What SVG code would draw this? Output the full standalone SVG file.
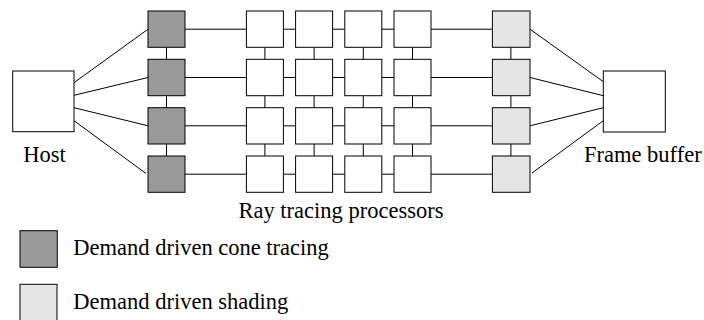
<svg xmlns="http://www.w3.org/2000/svg" width="704" height="320" viewBox="0 0 704 320">
  <style>
    .box { stroke: #000; stroke-width: 1; }
    .plain { fill: #fff; }
    .cone { fill: #999999; }
    .shade { fill: #e5e5e5; }
    .link { stroke: #000; stroke-width: 1; fill: none; }
  </style>
  <rect width="704" height="320" fill="#fff"/>

  <!-- connectors -->
  <g id="connectors" class="link">
    <!-- host to cone tracing column -->
    <line x1="74" y1="82.7" x2="148" y2="29.2"/>
    <line x1="74" y1="95.3" x2="148" y2="77.5"/>
    <line x1="74" y1="107.7" x2="148" y2="125.8"/>
    <line x1="74" y1="120.7" x2="146" y2="173.5"/>
    <!-- shading column to frame buffer -->
    <line x1="530" y1="29.2" x2="603.3" y2="81.7"/>
    <line x1="530" y1="77.5" x2="603.3" y2="95.7"/>
    <line x1="530" y1="125.8" x2="603.3" y2="107.7"/>
    <line x1="532" y1="173" x2="603.3" y2="120.7"/>
    <!-- horizontal row links -->
    <path d="M185 29.2H246.4M283.4 29.2H295.6M332.6 29.2H344.8M381.8 29.2H394M431 29.2H492.4"/>
    <path d="M185 77.5H246.4M283.4 77.5H295.6M332.6 77.5H344.8M381.8 77.5H394M431 77.5H492.4"/>
    <path d="M185 125.8H246.4M283.4 125.8H295.6M332.6 125.8H344.8M381.8 125.8H394M431 125.8H492.4"/>
    <path d="M185 174.2H246.4M283.4 174.2H295.6M332.6 174.2H344.8M381.8 174.2H394M431 174.2H492.4"/>
    <!-- vertical column links -->
    <path d="M166.5 47.3V59.3M166.5 95.7V107.7M166.5 144V156"/>
    <path d="M264.9 47.3V59.3M264.9 95.7V107.7M264.9 144V156"/>
    <path d="M314.1 47.3V59.3M314.1 95.7V107.7M314.1 144V156"/>
    <path d="M363.3 47.3V59.3M363.3 95.7V107.7M363.3 144V156"/>
    <path d="M412.5 47.3V59.3M412.5 95.7V107.7M412.5 144V156"/>
    <path d="M510.9 47.3V59.3M510.9 95.7V107.7M510.9 144V156"/>
  </g>

  <g font-family="Liberation Serif, DejaVu Serif, serif" font-size="22.5" fill="#000">
    <!-- host -->
    <g id="host">
      <rect class="box plain" x="12.7" y="71" width="61.3" height="60.7"/>
      <text x="23.3" y="161.7">Host</text>
    </g>

    <!-- frame buffer -->
    <g id="frame-buffer">
      <rect class="box plain" x="603.3" y="71" width="62" height="61"/>
      <text x="584" y="161.7">Frame buffer</text>
    </g>

    <!-- cone tracing column -->
    <g id="cone-tracing">
      <rect class="box cone" x="148" y="11" width="37" height="36.3"/>
      <rect class="box cone" x="148" y="59.3" width="37" height="36.4"/>
      <rect class="box cone" x="148" y="107.7" width="37" height="36.3"/>
      <rect class="box cone" x="148" y="156" width="37" height="36.3"/>
    </g>

    <!-- ray tracing processor grid -->
    <g id="ray-tracing-processors">
      <g class="box plain">
        <rect x="246.4" y="11" width="37" height="36.3"/>
        <rect x="295.6" y="11" width="37" height="36.3"/>
        <rect x="344.8" y="11" width="37" height="36.3"/>
        <rect x="394" y="11" width="37" height="36.3"/>
        <rect x="246.4" y="59.3" width="37" height="36.4"/>
        <rect x="295.6" y="59.3" width="37" height="36.4"/>
        <rect x="344.8" y="59.3" width="37" height="36.4"/>
        <rect x="394" y="59.3" width="37" height="36.4"/>
        <rect x="246.4" y="107.7" width="37" height="36.3"/>
        <rect x="295.6" y="107.7" width="37" height="36.3"/>
        <rect x="344.8" y="107.7" width="37" height="36.3"/>
        <rect x="394" y="107.7" width="37" height="36.3"/>
        <rect x="246.4" y="156" width="37" height="36.3"/>
        <rect x="295.6" y="156" width="37" height="36.3"/>
        <rect x="344.8" y="156" width="37" height="36.3"/>
        <rect x="394" y="156" width="37" height="36.3"/>
      </g>
      <text x="238.5" y="217.8">Ray tracing processors</text>
    </g>

    <!-- shading column -->
    <g id="shading">
      <rect class="box shade" x="492.4" y="11" width="37.6" height="36.3"/>
      <rect class="box shade" x="492.4" y="59.3" width="37.6" height="36.4"/>
      <rect class="box shade" x="492.4" y="107.7" width="37.6" height="36.3"/>
      <rect class="box shade" x="492.4" y="156" width="37.6" height="36.3"/>
    </g>

    <!-- legend -->
    <g id="legend-cone">
      <rect class="box cone" x="20" y="230.7" width="37.3" height="36.6"/>
      <text x="73.3" y="255">Demand driven cone tracing</text>
    </g>
    <g id="legend-shading">
      <rect class="box shade" x="20" y="284.3" width="37" height="37"/>
      <text x="73.3" y="308.5">Demand driven shading</text>
    </g>
  </g>
</svg>
